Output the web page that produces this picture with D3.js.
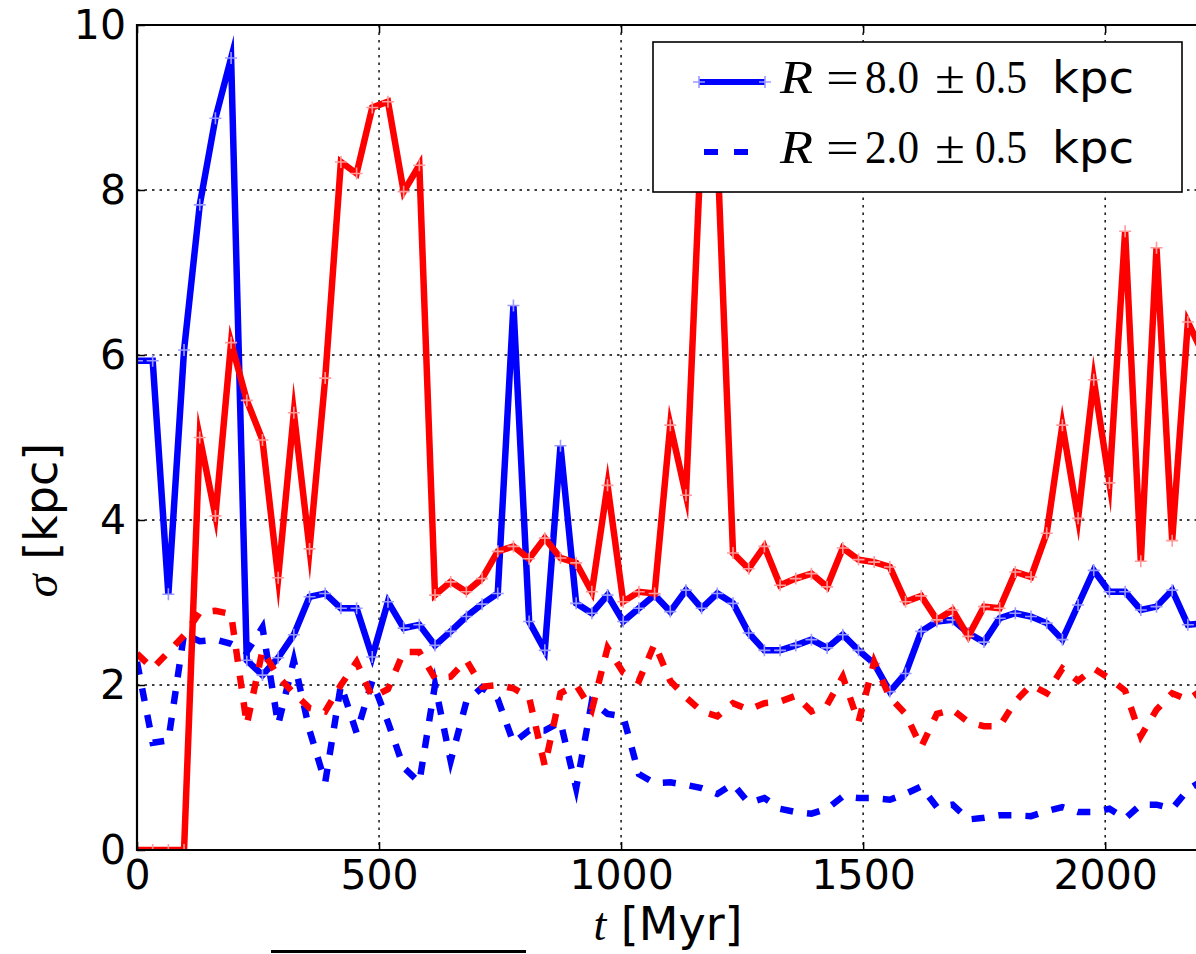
<!DOCTYPE html>
<html>
<head>
<meta charset="utf-8">
<script src="https://cdn.jsdelivr.net/npm/d3@7"></script>
<style>
  html, body { margin: 0; padding: 0; background: #ffffff; }
  svg { display: block; }
</style>
</head>
<body>
<svg id="chart" width="1196" height="954"></svg>
<script>
// ---- data (time in Myr, sigma in kpc) ----
const times = [
  0, 32.4, 64.8, 97.2, 129.6, 162, 194.4, 226.8, 259.2, 291.6,
  324, 356.4, 388.8, 421.2, 453.6, 486, 518.4, 550.8, 583.2, 615.6,
  648, 680.4, 712.8, 745.2, 777.6, 810, 842.4, 874.8, 907.2, 939.6,
  972, 1004.4, 1036.8, 1069.2, 1101.6, 1134, 1166.4, 1198.8, 1231.2, 1263.6,
  1296, 1328.4, 1360.8, 1393.2, 1425.6, 1458, 1490.4, 1522.8, 1555.2, 1587.6,
  1620, 1652.4, 1684.8, 1717.2, 1749.6, 1782, 1814.4, 1846.8, 1879.2, 1911.6,
  1944, 1976.4, 2008.8, 2041.2, 2073.6, 2106, 2138.4, 2170.8, 2203.2
];
// blue solid: R = 8.0 +/- 0.5 kpc
const blueR8 = [
  5.93, 5.93, 3.10, 6.06, 7.82, 8.87, 9.60, 2.30, 2.12, 2.33,
  2.61, 3.07, 3.11, 2.93, 2.93, 2.34, 3.01, 2.69, 2.73, 2.48,
  2.65, 2.83, 2.98, 3.11, 6.60, 2.77, 2.42, 4.90, 2.99, 2.87,
  3.09, 2.77, 2.93, 3.09, 2.89, 3.15, 2.93, 3.11, 2.99, 2.63,
  2.42, 2.42, 2.48, 2.55, 2.45, 2.61, 2.42, 2.26, 1.92, 2.14,
  2.65, 2.77, 2.79, 2.63, 2.52, 2.81, 2.87, 2.83, 2.75, 2.55,
  2.97, 3.39, 3.13, 3.13, 2.91, 2.95, 3.15, 2.73, 2.75
];
// blue dashed: R = 2.0 +/- 0.5 kpc
const blueR2 = [
  2.28, 1.30, 1.33, 2.62, 2.53, 2.55, 2.50, 2.40, 2.70, 1.52,
  2.30, 1.45, 0.82, 2.00, 1.42, 2.05, 1.55, 1.00, 0.82, 2.00,
  1.08, 1.80, 1.97, 1.83, 1.30, 1.45, 1.45, 1.55, 0.75, 1.80,
  1.65, 1.62, 0.92, 0.81, 0.82, 0.79, 0.75, 0.68, 0.80, 0.57,
  0.63, 0.50, 0.46, 0.44, 0.50, 0.65, 0.63, 0.63, 0.61, 0.68,
  0.77, 0.52, 0.55, 0.37, 0.39, 0.42, 0.42, 0.41, 0.47, 0.52,
  0.46, 0.46, 0.50, 0.38, 0.55, 0.55, 0.50, 0.73, 0.85
];
// red solid
const redR8 = [
  0, 0, 0, 0, 5.00, 4.05, 6.15, 5.45, 4.97, 3.30,
  5.30, 3.65, 5.72, 8.34, 8.20, 9.00, 9.07, 7.98, 8.30, 3.09,
  3.25, 3.13, 3.29, 3.62, 3.68, 3.53, 3.78, 3.54, 3.48, 3.13,
  4.42, 3.01, 3.13, 3.11, 5.15, 4.30, 8.70, 8.50, 3.60, 3.41,
  3.68, 3.21, 3.29, 3.35, 3.19, 3.66, 3.52, 3.49, 3.43, 3.01,
  3.08, 2.79, 2.91, 2.59, 2.95, 2.93, 3.37, 3.31, 3.84, 5.15,
  4.02, 5.70, 4.45, 7.50, 3.50, 7.30, 3.75, 6.40, 6.00
];
// red dashed
const redR2 = [
  2.38, 2.20, 2.40, 2.60, 2.88, 2.90, 2.86, 1.52, 2.42, 2.10,
  1.90, 1.72, 1.68, 2.00, 2.28, 1.85, 1.95, 2.40, 2.40, 2.08,
  2.10, 2.30, 1.98, 2.00, 1.96, 1.85, 1.02, 1.90, 2.00, 1.70,
  2.45, 2.15, 2.05, 2.50, 2.05, 1.85, 1.68, 1.62, 1.78, 1.70,
  1.78, 1.80, 1.87, 1.68, 1.76, 2.10, 1.55, 2.28, 1.85, 1.65,
  1.25, 1.65, 1.70, 1.55, 1.50, 1.50, 1.80, 2.00, 1.90, 2.20,
  2.05, 2.20, 2.08, 1.93, 1.38, 1.70, 1.90, 1.82, 1.95
];
const xTicks = [0, 500, 1000, 1500, 2000];
const yTicks = [0, 2, 4, 6, 8, 10];
const legendLabels = ["8.0", "2.0"];

// ---- layout ----
const svg = d3.select("#chart");
const L = 137, T = 25, R = 1202, B = 850;
const x = d3.scaleLinear().domain([0, 2200]).range([L, R]);
const y = d3.scaleLinear().domain([0, 10]).range([B, T]);

svg.append("rect").attr("width", 1196).attr("height", 954).attr("fill", "#fff");

svg.append("defs").append("clipPath").attr("id", "plotclip")
  .append("rect").attr("x", L).attr("y", T).attr("width", R - L).attr("height", B - T);

// grid
const grid = svg.append("g").attr("stroke", "#000").attr("stroke-width", 1.4)
  .attr("stroke-dasharray", "2.5,5");
grid.selectAll("line.gx").data(xTicks.filter(d => d > 0)).join("line")
  .attr("x1", d => x(d)).attr("x2", d => x(d)).attr("y1", T).attr("y2", B);
grid.selectAll("line.gy").data(yTicks.filter(d => d > 0 && d < 10)).join("line")
  .attr("x1", L).attr("x2", R).attr("y1", d => y(d)).attr("y2", d => y(d));

// series
const plot = svg.append("g").attr("clip-path", "url(#plotclip)");
const line = d3.line().x((d, i) => x(times[i])).y(d => y(d));
const series = [
  {v: blueR8, c: "#0000ff", m: "#9a9aff", dash: null},
  {v: blueR2, c: "#0000ff", m: null, dash: "13,14"},
  {v: redR8, c: "#ff0000", m: "#ff9a9a", dash: null},
  {v: redR2, c: "#ff0000", m: null, dash: "13,14"}
];
series.forEach(s => {
  plot.append("path").datum(s.v).attr("d", line)
    .attr("fill", "none").attr("stroke", s.c).attr("stroke-width", 6.5)
    .attr("stroke-linejoin", "miter").attr("stroke-miterlimit", 10)
    .attr("stroke-dasharray", s.dash);
  if (s.m) {
    plot.append("g").selectAll("path").data(s.v).join("path")
      .attr("d", (d, i) => {
        const px = x(times[i]), py = y(d), h = 6;
        return `M${px - h},${py}H${px + h}M${px},${py - h}V${py + h}`;
      })
      .attr("stroke", s.m).attr("stroke-width", 1.6).attr("fill", "none");
  }
});

// axes (ticks inward)
const fontSans = "'DejaVu Sans', sans-serif";
const ax = svg.append("g").attr("transform", `translate(0,${B})`)
  .call(d3.axisBottom(x).tickValues(xTicks).tickSize(-8).tickPadding(10).tickFormat(d3.format("d")));
const axTop = svg.append("g").attr("transform", `translate(0,${T})`)
  .call(d3.axisTop(x).tickValues(xTicks).tickSize(-8).tickFormat(""));
const ay = svg.append("g").attr("transform", `translate(${L},0)`)
  .call(d3.axisLeft(y).tickValues(yTicks).tickSize(-8).tickPadding(11).tickFormat(d3.format("d")));
[ax, axTop, ay].forEach(g => {
  g.select(".domain").remove();
  g.selectAll(".tick line").attr("stroke", "#000").attr("stroke-width", 1.5);
  g.selectAll("text").attr("font-family", fontSans).attr("font-size", 41).attr("fill", "#000");
});

// spines
svg.append("path").attr("d", `M${R + 5},${T}H${L}V${B}H${R + 5}`)
  .attr("fill", "none").attr("stroke", "#000").attr("stroke-width", 2.2);

// axis labels
const serif = "'Liberation Serif', 'DejaVu Serif', serif";
const xl = svg.append("text").attr("x", 668).attr("y", 940).attr("text-anchor", "middle")
  .attr("font-size", 46).attr("fill", "#000");
xl.append("tspan").attr("font-family", serif).attr("font-style", "italic").text("t");
xl.append("tspan").attr("font-family", fontSans).text(" [Myr]");

const yl = svg.append("text").attr("transform", "translate(57,520) rotate(-90)")
  .attr("text-anchor", "middle").attr("font-size", 46).attr("fill", "#000");
yl.append("tspan").attr("font-family", serif).attr("font-style", "italic").text("σ");
yl.append("tspan").attr("font-family", fontSans).text(" [kpc]");

// legend
const lg = svg.append("g");
lg.append("rect").attr("x", 653).attr("y", 42).attr("width", 529).attr("height", 150)
  .attr("fill", "#fff").attr("stroke", "#000").attr("stroke-width", 1.6);
lg.append("line").attr("x1", 699).attr("x2", 765).attr("y1", 82).attr("y2", 82)
  .attr("stroke", "#0000ff").attr("stroke-width", 6);
[699, 765].forEach(px => {
  lg.append("path").attr("d", `M${px - 6},82H${px + 6}M${px},76V88`)
    .attr("stroke", "#9a9aff").attr("stroke-width", 1.6);
});
lg.append("line").attr("x1", 704).attr("x2", 750).attr("y1", 152).attr("y2", 152)
  .attr("stroke", "#0000ff").attr("stroke-width", 6).attr("stroke-dasharray", "14,16");
legendLabels.forEach((lab, i) => {
  const by = 93 + i * 70;
  const piece = (px, txt, opts) => {
    const t = lg.append("text").attr("x", px).attr("y", by).attr("fill", "#000")
      .attr("font-family", opts.sans ? fontSans : serif)
      .attr("font-size", opts.size || 47)
      .attr("font-style", opts.italic ? "italic" : "normal")
      .text(txt);
    if (opts.len) t.attr("textLength", opts.len).attr("lengthAdjust", "spacingAndGlyphs");
    return t;
  };
  piece(780, "R", {italic: true, len: 33});
  piece(826, "=", {len: 33});
  piece(865, lab, {len: 54});
  piece(935, "±", {len: 30});
  piece(975, "0.5", {len: 52});
  piece(1052, "kpc", {sans: true, size: 45, len: 82});
});

// cut-off element at the bottom of the figure
svg.append("line").attr("x1", 271).attr("x2", 526).attr("y1", 951.5).attr("y2", 951.5)
  .attr("stroke", "#000").attr("stroke-width", 3);
</script>
</body>
</html>
